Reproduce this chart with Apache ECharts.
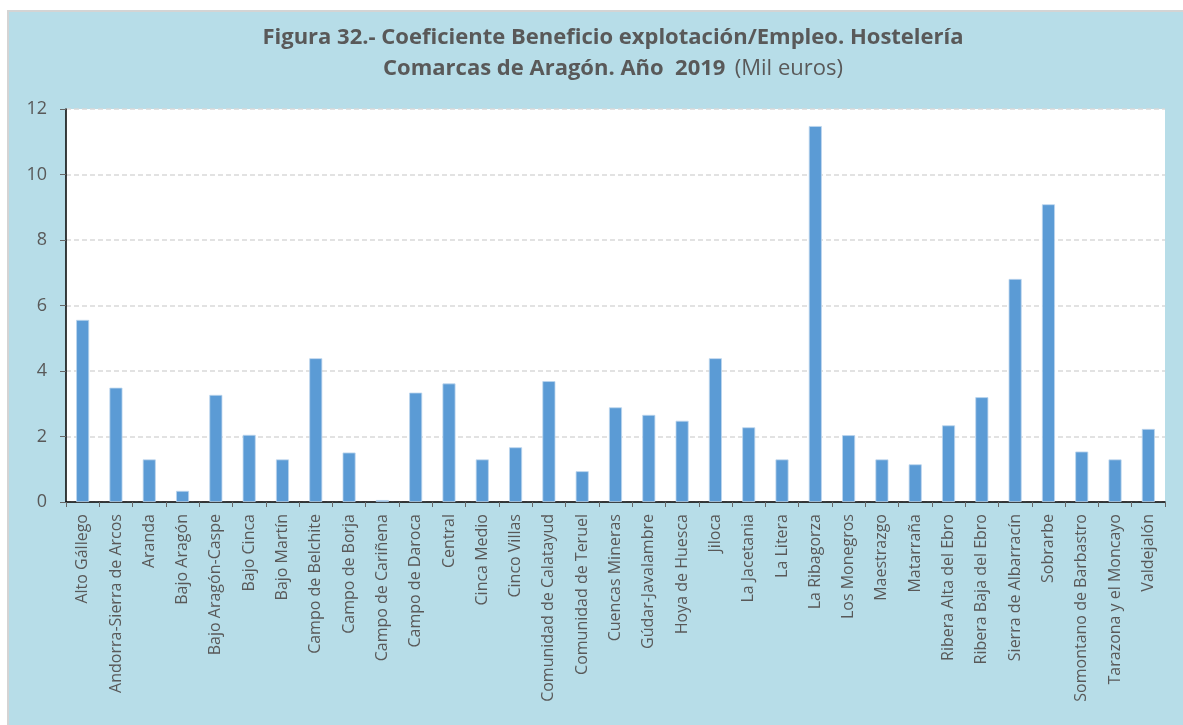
<!DOCTYPE html>
<html>
<head>
<meta charset="utf-8">
<script src="https://cdn.jsdelivr.net/npm/echarts@6/dist/echarts.min.js"></script>
<style>
  html, body { margin: 0; padding: 0; background: #fff; }
  #fondo {
    position: absolute; left: 7px; top: 10px; right: 0; bottom: 0;
    background: #b7dde8;
    border-top: 2px solid #d4d4d4; border-left: 2px solid #d4d4d4;
  }
  #grafico { position: absolute; left: 0; top: 0; width: 1183px; height: 725px; }
</style>
</head>
<body>
<div id="fondo"></div>
<div id="grafico"></div>
<script>
// comarcas (eje x)
const comarcas = [
  "Alto Gállego", "Andorra-Sierra de Arcos", "Aranda", "Bajo Aragón",
  "Bajo Aragón-Caspe", "Bajo Cinca", "Bajo Martín", "Campo de Belchite",
  "Campo de Borja", "Campo de Cariñena", "Campo de Daroca", "Central",
  "Cinca Medio", "Cinco Villas", "Comunidad de Calatayud", "Comunidad de Teruel",
  "Cuencas Mineras", "Gúdar-Javalambre", "Hoya de Huesca", "Jiloca",
  "La Jacetania", "La Litera", "La Ribagorza", "Los Monegros",
  "Maestrazgo", "Matarraña", "Ribera Alta del Ebro", "Ribera Baja del Ebro",
  "Sierra de Albarracín", "Sobrarbe", "Somontano de Barbastro",
  "Tarazona y el Moncayo", "Valdejalón"
];

// coeficiente beneficio explotación / empleo (mil euros)
const coeficiente = [
  5.56, 3.49, 1.30, 0.34,
  3.27, 2.05, 1.30, 4.39,
  1.51, 0.06, 3.34, 3.62,
  1.30, 1.67, 3.69, 0.94,
  2.89, 2.66, 2.48, 4.39,
  2.28, 1.30, 11.48, 2.04,
  1.30, 1.15, 2.34, 3.20,
  6.81, 9.09, 1.54,
  1.30, 2.23
];

// escala del eje y
const ejeY = { min: 0, max: 12, intervalo: 2 };

const titulo1 = "Figura 32.- Coeficiente Beneficio explotación/Empleo. Hostelería";
const titulo2a = "Comarcas de Aragón. Año  2019";
const titulo2b = "(Mil euros)";

const fuente = "'Open Sans', sans-serif";
const gris = "#595959";

const opciones = {
  backgroundColor: "transparent",
  animation: false,
  textStyle: { fontFamily: fuente },
  title: [
    {
      text: titulo1,
      left: 608, top: 22, textAlign: "center",
      textStyle: { fontFamily: fuente, fontSize: 22, fontWeight: "bold", color: gris }
    },
    {
      text: "{b|" + titulo2a + "}  {n|" + titulo2b + "}",
      left: 608, top: 53, textAlign: "center",
      textStyle: {
        rich: {
          b: { fontFamily: fuente, fontSize: 22, fontWeight: "bold", color: gris },
          n: { fontFamily: fuente, fontSize: 22, fontWeight: "normal", color: gris }
        }
      }
    }
  ],
  grid: {
    left: 66, right: 18, top: 109, bottom: 223,
    show: true, backgroundColor: "#ffffff", borderWidth: 0
  },
  xAxis: {
    type: "category",
    data: comarcas,
    axisLine: { lineStyle: { color: "#000", width: 1.5 } },
    axisTick: { show: true, length: 5, lineStyle: { color: "#666" } },
    axisLabel: {
      rotate: 90, interval: 0, margin: 12,
      fontFamily: fuente, fontSize: 16, color: gris
    }
  },
  yAxis: {
    type: "value",
    min: ejeY.min, max: ejeY.max, interval: ejeY.intervalo,
    axisLine: { show: true, lineStyle: { color: "#000", width: 1.5 } },
    axisTick: { show: true, length: 6, lineStyle: { color: "#666" } },
    axisLabel: { fontFamily: fuente, fontSize: 18, color: gris, margin: 19 },
    splitLine: { lineStyle: { color: "#d9d9d9", type: [5, 3], width: 1.5 } }
  },
  series: [
    {
      type: "bar",
      data: coeficiente,
      barWidth: 13,
      itemStyle: { color: "#5b9bd5", borderColor: "#bcd6ee", borderWidth: 0.8 }
    }
  ]
};

const miGrafico = echarts.init(document.getElementById("grafico"));
miGrafico.setOption(opciones);
</script>
</body>
</html>
